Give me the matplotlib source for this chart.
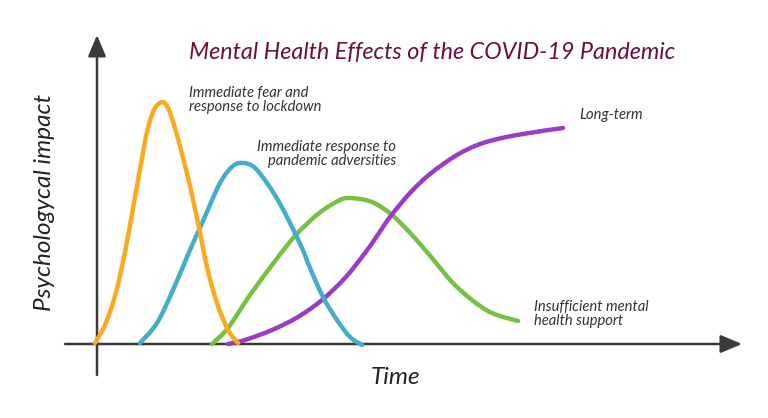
import matplotlib as mlp
mlp.use('Agg')
import matplotlib.pyplot as plt
from matplotlib.path import Path
from matplotlib.patches import PathPatch

# time / impact values (origin at the axes corner)
orange_t = [-2, 8, 18, 28, 38, 44, 50, 57, 65, 71, 78, 85, 93, 101, 110, 120, 131, 141]
orange_v = [1, 19, 48, 92, 147, 180, 212, 234, 242, 236, 216, 190, 158, 121, 77, 41, 14, 1]

blue_t = [43, 60, 76, 93, 106, 123, 136, 146, 157, 170, 182, 193, 205, 213, 226, 240, 253, 265]
blue_v = [1, 21, 54, 94, 123, 161, 178, 181, 177, 161, 142, 121, 96, 76, 47, 24, 7, -1]

green_t = [115, 131, 151, 175, 198, 221, 241, 253, 275, 295, 315, 335, 355, 375, 395, 421]
green_v = [0, 16, 46, 79, 108, 130, 143, 146, 142, 129, 109, 86, 62, 44, 31, 23]

purple_t = [131, 148, 175, 201, 225, 248, 268, 280, 293, 313, 333, 360, 386, 420, 466]
purple_v = [0, 4, 14, 27, 44, 66, 91, 108, 127, 151, 170, 189, 201, 209, 216]

title = 'Mental Health Effects of the COVID-19 Pandemic'
labels = {
    'fear': 'Immediate fear and\nresponse to lockdown',
    'adv': 'Immediate response to\npandemic adversities',
    'long': 'Long-term',
    'insuf': 'Insufficient mental\nhealth support',
}


def smooth_path(xs, ys):
    # catmull-rom through the read points, drawn as bezier segments
    pts = list(zip(xs, ys))
    verts = [pts[0]]
    codes = [Path.MOVETO]
    n = len(pts)
    for i in range(n - 1):
        p0 = pts[i - 1] if i > 0 else pts[i]
        p1 = pts[i]
        p2 = pts[i + 1]
        p3 = pts[i + 2] if i + 2 < n else pts[i + 1]
        c1 = (p1[0] + (p2[0] - p0[0]) / 6, p1[1] + (p2[1] - p0[1]) / 6)
        c2 = (p2[0] - (p3[0] - p1[0]) / 6, p2[1] - (p3[1] - p1[1]) / 6)
        verts += [c1, c2, p2]
        codes += [Path.CURVE4] * 3
    return Path(verts, codes)


fig = plt.figure(figsize=(7.68, 4.18), dpi=100)
ax = fig.add_axes([0, 0, 1, 1])
ax.set_xlim(-97, 671)
ax.set_ylim(-74, 344)
ax.axis('off')

axis_col = '#3a3a3a'
arrow = dict(arrowstyle='-|>,head_length=1.0,head_width=0.42', lw=1.8,
             color=axis_col, shrinkA=0, shrinkB=0, mutation_scale=13)
ax.annotate('', xy=(645, 0), xytext=(-32, 0), arrowprops=arrow, zorder=1)
ax.annotate('', xy=(0, 309), xytext=(0, -31), arrowprops=arrow, zorder=1)

lw = 3.2
series = [(green_t, green_v, '#76c043'),
          (purple_t, purple_v, '#9a3cc6'),
          (blue_t, blue_v, '#44adc8'),
          (orange_t, orange_v, '#fba91e')]
for z, (t, v, c) in enumerate(series):
    ax.add_patch(PathPatch(smooth_path(t, v), fill=False, edgecolor=c, lw=lw,
                           capstyle='round', joinstyle='round', zorder=2 + z))

fam = ['Lato', 'DejaVu Sans']
txt_col = '#333333'
ax.text(335, 291, title, color='#6b1036', fontsize=16.8, style='italic', family=fam,
        ha='center', va='center')
ax.text(92, 244, labels['fear'], color=txt_col, fontsize=10.6, style='italic', family=fam,
        ha='left', va='center', linespacing=0.95)
ax.text(299, 190, labels['adv'], color=txt_col, fontsize=10.6, style='italic', family=fam,
        ha='right', va='center', linespacing=0.95, multialignment='right')
ax.text(482, 229, labels['long'], color=txt_col, fontsize=10.6, style='italic', family=fam,
        ha='left', va='center')
ax.text(437, 30, labels['insuf'], color=txt_col, fontsize=10.6, style='italic', family=fam,
        ha='left', va='center', linespacing=0.95)

ax.text(298, -33, 'Time', color='#222222', fontsize=17.5, style='italic', family=fam,
        ha='center', va='center')
ax.text(-52, 142, 'Psychologycal impact', color='#222222', fontsize=17.5, style='italic',
        family=fam, ha='center', va='center', rotation=90)

plt.savefig('out.png', dpi=100)
